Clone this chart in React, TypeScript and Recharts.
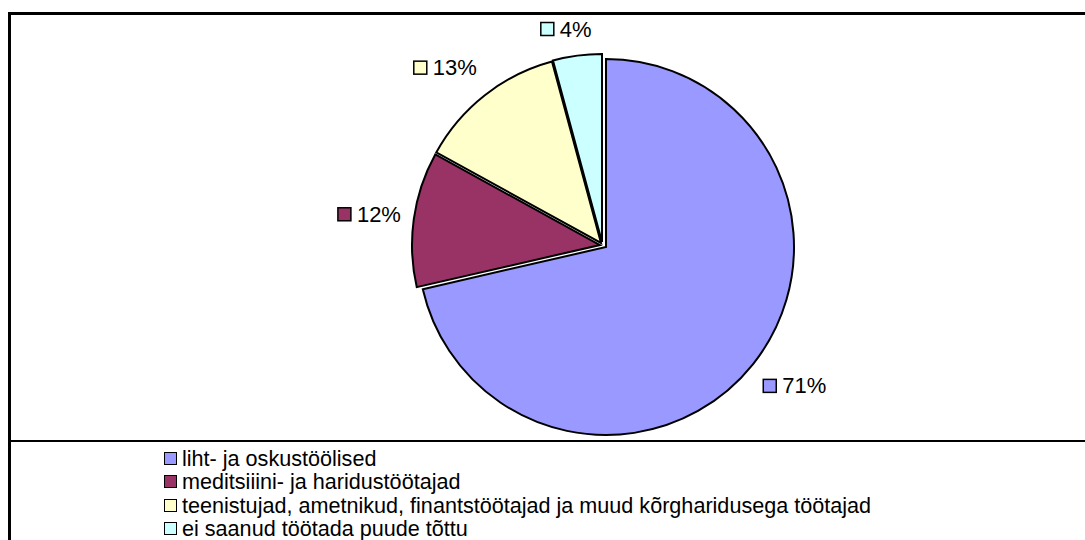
import React from 'react';
import { PieChart, Pie, Cell, Legend } from 'recharts';

const categories = [
  'liht- ja oskustöölised',
  'meditsiiini- ja haridustöötajad',
  'teenistujad, ametnikud, finantstöötajad ja muud kõrgharidusega töötajad',
  'ei saanud töötada puude tõttu',
];
const values = [71.4, 11.6, 12.8, 4.2];
const colors = ['#9999FF', '#993366', '#FFFFCC', '#CCFFFF'];
// slight "exploded" offsets of each slice centre (Excel look)
const sliceCenters = [
  [606, 247],
  [600, 245],
  [601, 243],
  [602, 242],
];

const data = categories.map((name, i) => ({ name, value: values[i] }));
const total = values.reduce((a, b) => a + b, 0);

const FONT = '"Liberation Sans", Arial, Helvetica, sans-serif';
const LABEL_FS = 22;
const LEGEND_FS = 21.6;
const RAD = Math.PI / 180;
const OUTER_R = 188;

const textWidth = (s: string) =>
  s.split('').reduce((w, c) => w + (c === '%' ? 0.889 : 0.556) * LABEL_FS, 0);

const makeLabel = (own: number) => (props: any) => {
  const { cx, cy, midAngle, index } = props;
  if (index !== own) return null;
  const txt = `${Math.round((values[index] / total) * 100)}%`;
  const dx = Math.cos(-midAngle * RAD);
  const dy = Math.sin(-midAngle * RAD);
  const R = OUTER_R + 13;
  const ax = cx + R * dx;
  const ay = cy + R * dy;
  const sq = 13;
  const gap = 6;
  const w = sq + gap + textWidth(txt);
  const f = Math.min(1, 2.8 * Math.abs(dx));
  const bcx = ax + Math.sign(dx) * f * (w / 2);
  let bcy = ay + 22 * dy;
  if (bcy < 29) bcy = 29;
  const x0 = bcx - w / 2;
  return (
    <g key={`lbl-${index}`}>
      <rect x={x0} y={bcy - sq / 2} width={sq} height={sq} fill={colors[index]} stroke="#000" strokeWidth={1.5} />
      <text x={x0 + sq + gap} y={bcy} dominantBaseline="central" fontFamily={FONT} fontSize={LABEL_FS} fill="#000">
        {txt}
      </text>
    </g>
  );
};

const renderLegend = () => (
  <div style={{ fontFamily: FONT, fontSize: LEGEND_FS, lineHeight: '23.3px', color: '#000', textAlign: 'left' }}>
    {categories.map((c, i) => (
      <div key={c} style={{ display: 'flex', alignItems: 'center', height: 23.3, whiteSpace: 'nowrap' }}>
        <span
          style={{
            display: 'inline-block',
            width: 11,
            height: 11,
            background: colors[i],
            border: '1.5px solid #000',
            marginRight: 5,
          }}
        />
        <span>{c}</span>
      </div>
    ))}
  </div>
);

export default function App() {
  return (
    <div
      style={{
        position: 'absolute',
        left: 0,
        top: 0,
        width: 1085,
        height: 540,
        overflow: 'hidden',
        background: '#fff',
      }}
    >
      <div
        style={{
          position: 'absolute',
          left: 8,
          top: 12,
          width: 1200,
          height: 700,
          borderLeft: '3px solid #000',
          borderTop: '3px solid #000',
        }}
      />
      <div style={{ position: 'absolute', left: 8, top: 440, width: 1200, height: 2, background: '#000' }} />
      <div style={{ position: 'absolute', left: 0, top: 0 }}>
        <PieChart width={1085} height={540} margin={{ top: 0, right: 0, bottom: 0, left: 0 }}>
          {sliceCenters.map((c, k) => (
            <Pie
              key={`pie-${k}`}
              data={data}
              dataKey="value"
              nameKey="name"
              cx={c[0]}
              cy={c[1]}
              outerRadius={OUTER_R}
              innerRadius={0}
              startAngle={90}
              endAngle={-270}
              isAnimationActive={false}
              labelLine={false}
              label={makeLabel(k)}
              legendType="none"
            >
              {data.map((d, i) => (
                <Cell
                  key={`cell-${k}-${i}`}
                  fill={i === k ? colors[i] : 'none'}
                  stroke={i === k ? '#000' : 'none'}
                  strokeWidth={2}
                />
              ))}
            </Pie>
          ))}
          <Legend
            content={renderLegend}
            layout="horizontal"
            verticalAlign="bottom"
            align="center"
            wrapperStyle={{ position: 'absolute', left: 164, top: 447, bottom: 'auto', width: 850 }}
          />
        </PieChart>
      </div>
    </div>
  );
}
